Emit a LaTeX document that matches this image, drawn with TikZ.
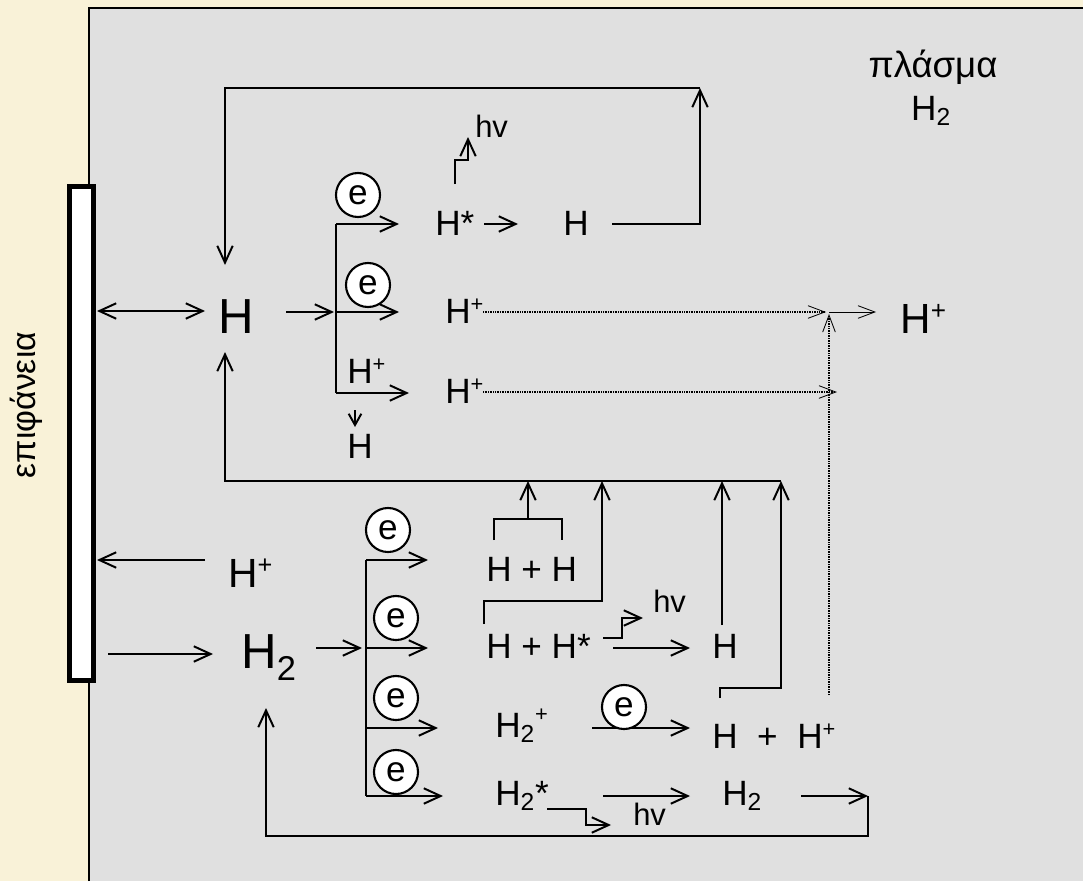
\documentclass[tikz,border=0pt]{standalone}
\usepackage{fontspec}
\usepackage{graphicx}
\setmainfont{Liberation Sans}
\usetikzlibrary{arrows.meta}
\definecolor{cream}{RGB}{249,242,216}
\definecolor{panelgrey}{RGB}{224,224,224}
\newcommand{\upplus}{\raisebox{0.33em}{\scalebox{0.62}{+}}}
\begin{document}
\begin{tikzpicture}[x=0.025cm,y=-0.025cm,
  conn/.style={line width=1.4pt, line join=miter},
  arr/.style={conn,-{Straight Barb[length=12pt,width=11pt]}},
  sarr/.style={conn,-{Straight Barb[length=8pt,width=9pt]}},
  darr/.style={conn,{Straight Barb[length=12pt,width=11pt]}-{Straight Barb[length=12pt,width=11pt]}},
  dotarr/.style={line width=0.8pt, dash pattern=on 0.7pt off 0.5pt, -{Straight Barb[length=12pt,width=9pt,line width=0.6pt]}},
  thinarr/.style={line width=0.7pt, -{Straight Barb[length=12pt,width=9pt,line width=0.6pt]}},
  lbl/.style={inner sep=0pt, anchor=base west, font=\fontsize{25}{30}\selectfont},
  big/.style={lbl, font=\fontsize{35}{40}\selectfont},
  hvlbl/.style={lbl, font=\fontsize{22}{26}\selectfont},
  ecirc/.style={circle, draw, fill=white, line width=1.5pt, minimum size=1.1cm, inner sep=0pt, font=\fontsize{25}{30}\selectfont},
]
\useasboundingbox (0,0) rectangle (1083,881);
% background and panel
\fill[cream] (0,0) rectangle (1083,881);
\fill[panelgrey] (89,8) rectangle (1083,881);
\draw[line width=1.7pt] (89,881) -- (89,8) -- (1083,8);
% surface
\draw[line width=3.6pt, fill=white] (69.5,186.5) rectangle (93.5,680.5);
\node[rotate=90, inner sep=0pt, font=\fontsize{24}{28}\selectfont] (surf) at (26,405) {επιφάνεια};
% plasma label
\node[lbl, anchor=base, font=\fontsize{26}{30}\selectfont] (plasma) at (933,77) {πλάσμα};
\node[lbl, anchor=base] (plasmaH) at (931,120) {H\textsubscript{2}};

% ---------- upper part ----------
\node[big] (H) at (218,333) {H};
\draw[darr] (97,311) -- (205,311);
\draw[arr] (286,312) -- (334,312);
\node[ecirc] (e1) at (358,195) {e};
\node[ecirc] (e2) at (368,285) {e};
\draw[conn] (336,224) -- (336,393);
\draw[arr] (336,224) -- (399,224);
\draw[arr] (336,312) -- (399,312);
\draw[arr] (336,393) -- (409,393);

\node[lbl] (Hs) at (435,235) {H*};
\draw[arr] (484,224) -- (518,224);
\node[lbl] (Htop) at (563,235) {H};
\draw[arr] (455,184) -- (455,160) -- (468,160) -- (468,137);
\node[hvlbl] (hv1) at (475,137) {hv};
\draw[arr] (612,224) -- (700,224) -- (700,88);
\draw[arr] (700,88) -- (225,88) -- (225,265);

\node[lbl] (Hp2) at (445,323) {H\upplus};
\node[lbl] (Hp3) at (445,403) {H\upplus};
\node[lbl] (Hpr) at (347,383) {H\upplus};
\draw[sarr] (355,410) -- (355,427);
\node[lbl] (Hsm) at (347,458) {H};

\draw[dotarr] (483,312) -- (826,312);
\draw[dotarr] (483,392) -- (837,392);
\draw[dotarr] (829,695) -- (829,314);
\draw[thinarr] (829,312) -- (876,312);
\node[lbl, font=\fontsize{30}{34}\selectfont] (Hpright) at (900,333) {H\upplus};

\draw[arr] (781,481) -- (225,481) -- (225,352);

% ---------- lower part ----------
\draw[arr] (205,560) -- (97,560);
\node[lbl, font=\fontsize{29}{34}\selectfont] (Hpl) at (228,587) {H\upplus};
\draw[arr] (108,654) -- (213,654);
\node[big] (H2) at (241,668) {H\textsubscript{2}};
\draw[arr] (316,648) -- (362,648);

\node[ecirc] (e3) at (388,530) {e};
\node[ecirc] (e4) at (396,618) {e};
\node[ecirc] (e5) at (396,698) {e};
\node[ecirc] (e6) at (396,772) {e};
\draw[conn] (366,560) -- (366,796);
\draw[arr] (366,560) -- (428,560);
\draw[arr] (366,648) -- (428,648);
\draw[arr] (366,728) -- (438,728);
\draw[arr] (366,796) -- (443,796);

\node[lbl] (HH) at (486,581) {H + H};
\draw[conn] (494,540) -- (494,519) -- (562,519) -- (562,540);
\draw[arr] (528,519) -- (528,481);

\node[lbl] (HHs) at (486,658) {H + H*};
\draw[arr] (484,624) -- (484,601) -- (602,601) -- (602,481);
\draw[arr] (603,638) -- (622,638) -- (622,618) -- (643,618);
\node[hvlbl] (hv2) at (653,612) {hv};
\draw[arr] (613,648) -- (690,648);
\node[lbl] (Hmid) at (712,658) {H};
\draw[arr] (722,625) -- (722,481);

\node[lbl] (H2p) at (495,737) {H\textsubscript{2}\raisebox{0.12em}{\upplus}};
\draw[arr] (592,728) -- (690,728);
\node[ecirc] (e7) at (624,707) {e};
\node[lbl] (HHp) at (712,748) {H~~+~~H\upplus};
\draw[arr] (720,698) -- (720,688) -- (781,688) -- (781,481);

\node[lbl] (H2s) at (495,805) {H\textsubscript{2}*};
\draw[arr] (547,809) -- (586,809) -- (586,825) -- (611,825);
\node[hvlbl] (hv3) at (633,825) {hv};
\draw[arr] (603,796) -- (690,796);
\node[lbl] (H2b) at (722,805) {H\textsubscript{2}};
\draw[arr] (801,796) -- (868,796);
\draw[arr] (868,796) -- (868,836) -- (266,836) -- (266,708);
\end{tikzpicture}
\end{document}
